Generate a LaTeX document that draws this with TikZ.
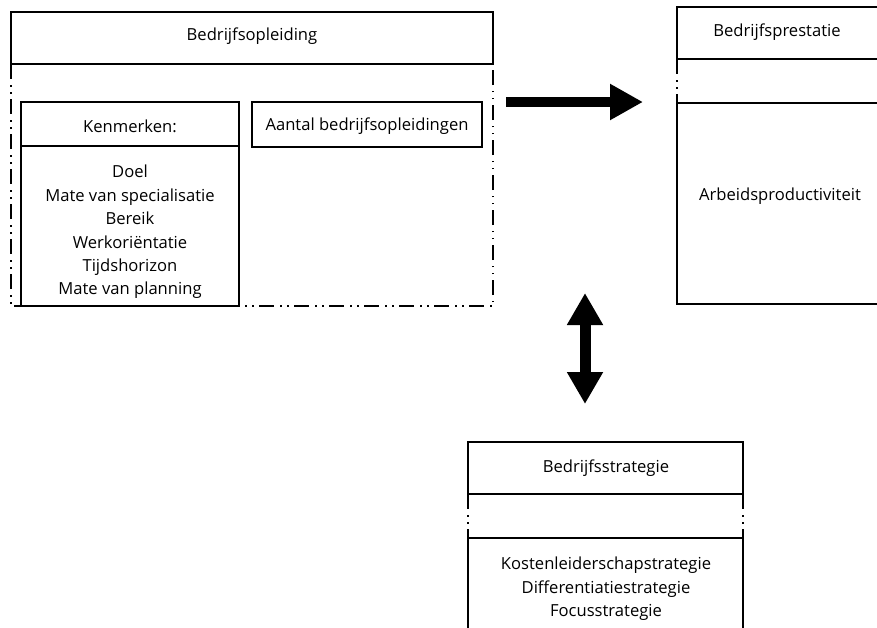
\documentclass[tikz,border=0pt]{standalone}
\usepackage{fontspec}
\setmainfont{Open Sans}
\usetikzlibrary{arrows.meta}
\begin{document}
\begin{tikzpicture}[x=1pt,y=-1pt,
  ln/.style={line width=1.5pt},
  ddot/.style={line width=1.5pt, dash pattern=on 15pt off 6pt on 1.5pt off 5.5pt on 1.5pt off 5.5pt},
  lbl/.style={font=\fontsize{16.6}{23.4}\selectfont, inner sep=0pt, align=center},
  bigarrow/.style={line width=10pt, -{Triangle[length=33pt,width=34pt]}},
  dblarrow/.style={line width=11pt, {Triangle[length=32pt,width=34pt]}-{Triangle[length=32pt,width=34pt]}},
]
\useasboundingbox (0,0) rectangle (877,627);
\clip (0,0) rectangle (877,627);

% Bedrijfsopleiding
\draw[ln] (11,12) rectangle (493,64);
\node[lbl] (opl) at (252,36) {Bedrijfsopleiding};
\draw[ddot] (11,64) -- (11,306) -- (493,306) -- (493,64);

\draw[ln,fill=white] (21,102) rectangle (239,306);
\draw[ln] (21,146) -- (239,146);
\node[lbl] (ken) at (130,126) {Kenmerken:};
\node[lbl,anchor=north] (kenlist) at (130,165) {Doel\\Mate van specialisatie\\Bereik\\Werkoriëntatie\\Tijdshorizon\\Mate van planning};

\draw[ln] (252,102) rectangle (482,147);
\node[lbl] (aantal) at (367,126) {Aantal bedrijfsopleidingen};

% Bedrijfsprestatie
\draw[ln] (890,7) -- (677,7) -- (677,59);
\draw[ln] (677,59) -- (890,59);
\draw[ddot] (677,59) -- (677,103);
\draw[ln] (890,103) -- (677,103) -- (677,304) -- (890,304);
\node[lbl] (prest) at (777,32) {Bedrijfsprestatie};
\node[lbl] (arb) at (780,196) {Arbeidsproductiviteit};

% Bedrijfsstrategie
\draw[ln] (468,494) -- (468,442) -- (743,442) -- (743,494);
\draw[ln] (468,494) -- (743,494);
\draw[ddot] (468,494) -- (468,538);
\draw[ddot] (743,494) -- (743,538);
\draw[ln] (468,538) -- (743,538);
\draw[ln] (468,538) -- (468,640);
\draw[ln] (743,538) -- (743,640);
\node[lbl] (strat) at (606,468) {Bedrijfsstrategie};
\node[lbl,anchor=north] (stratlist) at (606,557) {Kostenleiderschapstrategie\\Differentiatiestrategie\\Focusstrategie};

% arrows
\coordinate (r1) at (506,102);
\coordinate (r2) at (643,102);
\draw[bigarrow] (r1) -- (r2);
\coordinate (v1) at (585,293);
\coordinate (v2) at (585,404);
\draw[dblarrow] (v1) -- (v2);
\end{tikzpicture}
\end{document}
